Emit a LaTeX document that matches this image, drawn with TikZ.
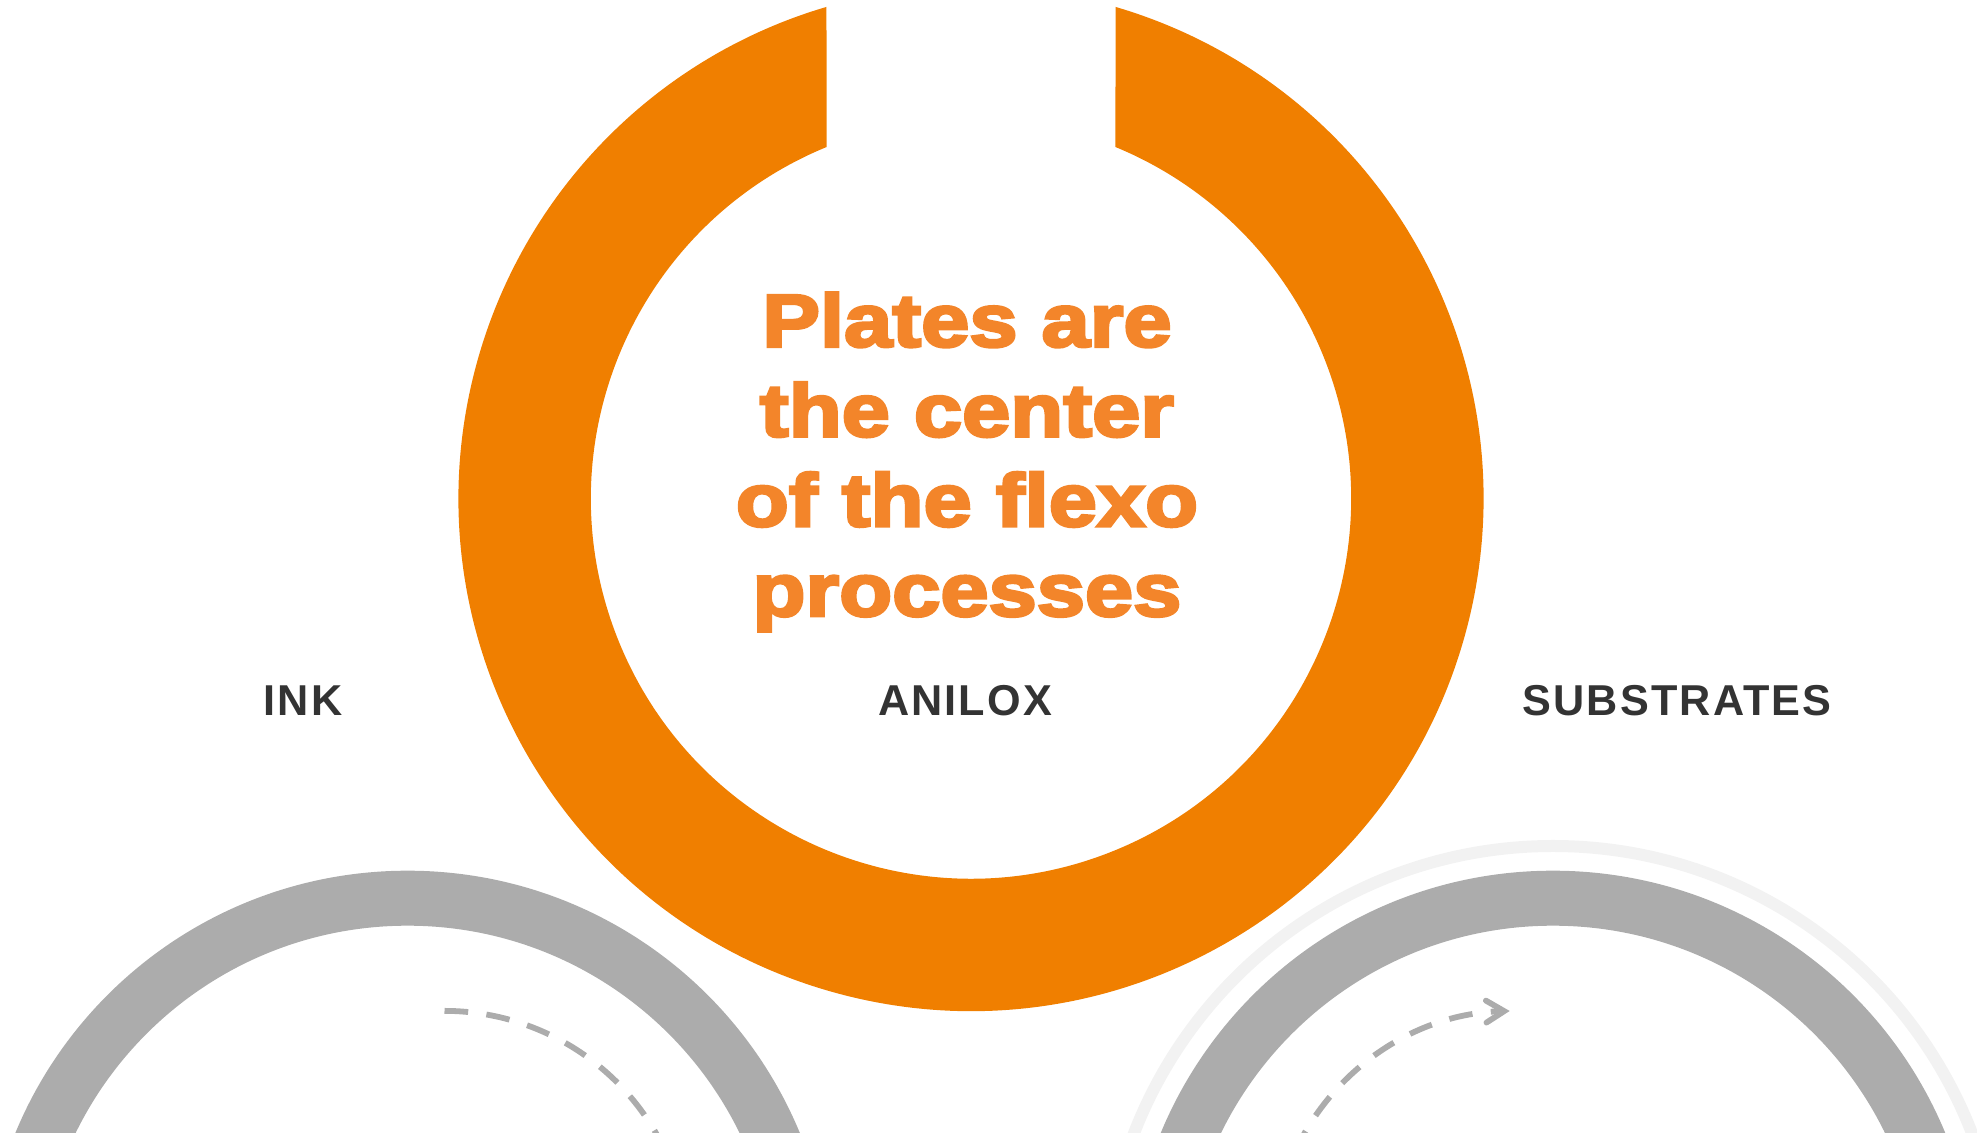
\documentclass[tikz,border=0pt]{standalone}
\usepackage{fontspec}
\setmainfont{Liberation Sans}
\newfontfamily\platefont[FakeStretch=1.165,FakeBold=4]{Liberation Sans}
\usetikzlibrary{arrows.meta}

\definecolor{plateorange}{HTML}{F07F00}
\definecolor{platetext}{HTML}{F3852A}
\definecolor{rollgrey}{HTML}{ACACAC}
\definecolor{halogrey}{HTML}{F2F2F2}
\definecolor{labelgrey}{HTML}{333333}

\begin{document}
\begin{tikzpicture}[x=0.5pt, y=0.5pt,
    lab/.style={font=\bfseries\fontsize{21.6}{26}\selectfont\addfontfeature{LetterSpace=5},
      text=labelgrey, anchor=base, inner sep=0pt},
    flow/.style={rollgrey, line width=2.9pt,
      dash pattern=on 11.85pt off 9.2pt},
    roll/.style={rollgrey, even odd rule}
    ]
    \useasboundingbox (0,0) rectangle (1977,1133);
    \begin{scope}
      \clip (0,0) rectangle (1977,1133);

      % plate ring, open at the top
      \fill[plateorange] (971,634.4) ++(73.62:512.5)
        arc[start angle=73.62, end angle=-253.62, radius=512.5]
        -- ([shift={(112.34:380.1)}]971,634.4)
        arc[start angle=112.34, end angle=427.66, radius=380.1] -- cycle;

      % rolls
      \fill[roll] (407.6,-162) circle[radius=424.3] circle[radius=369.3];
      \draw[halogrey, line width=6pt] (1553,-162) circle[radius=449];
      \fill[roll] (1553,-162) circle[radius=424.3] circle[radius=369.3];

      \draw[flow] (444.5,-121.9) ++(90:244)
        arc[start angle=90, end angle=15, radius=244];
      \draw[flow, -{Straight Barb[length=9pt, width=11pt, line cap=round]}]
        (1516.1,-121.9) ++(165:244)
        arc[start angle=165, end angle=91.5, radius=244];
    \end{scope}

    \node (plates) [font=\platefont\bfseries\fontsize{37.2}{44.9}\selectfont,
      text=platetext, align=center, inner sep=0pt] at (967,671)
      {Plates are\\the center\\of the flexo\\processes};

    \node (ink) [lab] at (303,417) {INK};
    \node (anilox) [lab] at (965,417) {ANILOX};
    \node (substrates) [lab] at (1677,417) {SUBSTRATES};
  \end{tikzpicture}
\end{document}
